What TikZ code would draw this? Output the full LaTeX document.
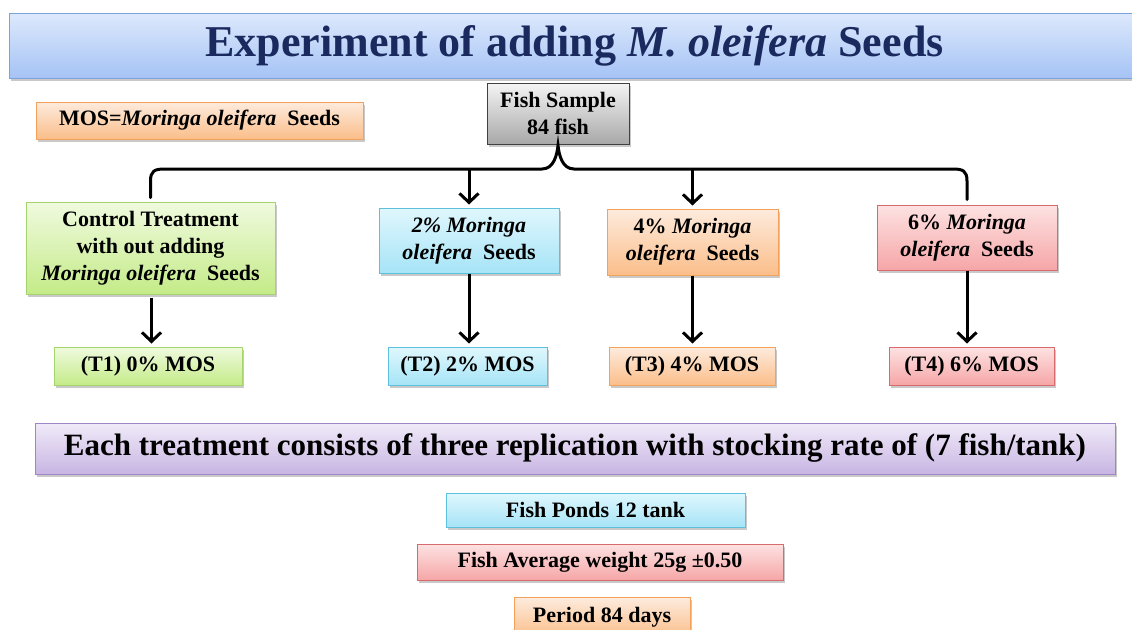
\documentclass[tikz,border=0pt]{standalone}
\usepackage{fontspec}
\setmainfont{Liberation Serif}
\usetikzlibrary{shadows,arrows.meta,calc}
\definecolor{navy}{HTML}{1B2A5E}
\definecolor{ttlT}{HTML}{DDE9FC}\definecolor{ttlB}{HTML}{A5C3F5}\definecolor{ttlD}{HTML}{7DA2DA}
\definecolor{orT}{HTML}{FDEBDD}\definecolor{orB}{HTML}{FBBE8A}\definecolor{orD}{HTML}{F4A15C}
\definecolor{grT}{HTML}{F4F4F4}\definecolor{grB}{HTML}{A8A8A8}\definecolor{grD}{HTML}{404040}
\definecolor{gnT}{HTML}{F0FADF}\definecolor{gnB}{HTML}{C4EB88}\definecolor{gnD}{HTML}{A6D46C}
\definecolor{blT}{HTML}{E0F7FD}\definecolor{blB}{HTML}{A6E4F7}\definecolor{blD}{HTML}{5FC0DD}
\definecolor{pkT}{HTML}{FDE2E2}\definecolor{pkB}{HTML}{F6A6A7}\definecolor{pkD}{HTML}{D66A6D}
\definecolor{puT}{HTML}{F0EAF8}\definecolor{puB}{HTML}{C8B5E3}\definecolor{puD}{HTML}{9C86C6}
\newcommand\MOri{\textit{Moringa oleifera}}
\tikzset{
  box/.style={draw, line width=1pt, rectangle, align=center, inner sep=1pt,
    font=\fontsize{22}{27}\selectfont\bfseries,
    drop shadow={shadow xshift=1.5pt, shadow yshift=-2.5pt, opacity=.3, fill=black!70}},
  orbox/.style={box, draw=orD, top color=orT, bottom color=orB},
  grbox/.style={box, draw=grD, top color=grT, bottom color=grB},
  gnbox/.style={box, draw=gnD, top color=gnT, bottom color=gnB},
  blbox/.style={box, draw=blD, top color=blT, bottom color=blB},
  pkbox/.style={box, draw=pkD, top color=pkT, bottom color=pkB},
  pubox/.style={box, draw=puD, top color=puT, bottom color=puB},
  ttlbox/.style={box, draw=ttlD, top color=ttlT, bottom color=ttlB},
  wh/.style 2 args={minimum width=#1, minimum height=#2},
  conn/.style={line width=3pt, draw=black},
  arr/.style={conn, -{Straight Barb[length=9pt,width=19pt,line width=3pt]}},
}
\begin{document}
\begin{tikzpicture}[x=1pt,y=-1pt]
\useasboundingbox (0,0) rectangle (1132,629);
\node[ttlbox, wh={1131pt}{65pt}, text=navy, font=\fontsize{44}{50}\selectfont\bfseries] (title) at (574.5,45.5) {Experiment of adding \textit{M. oleifera} Seeds};
\node[orbox, wh={327pt}{37pt}] (mos) at (199.5,120.5) {MOS=\MOri\ \ Seeds};
\node[grbox, wh={142pt}{61pt}] (fish) at (558,113.5) {Fish Sample\\84 fish};
\node[gnbox, wh={249pt}{92pt}] (ctrl) at (150.5,248) {Control Treatment\\with out adding\\\MOri\ \ Seeds};
\node[blbox, wh={180pt}{65pt}] (p2) at (469,240.5) {\textit{2\% Moringa}\\\textit{oleifera}\ \ Seeds};
\node[orbox, wh={171pt}{66pt}] (p4) at (692.5,242) {4\% \textit{Moringa}\\\textit{oleifera}\ \ Seeds};
\node[pkbox, wh={180pt}{65pt}] (p6) at (967,237.5) {6\% \textit{Moringa}\\\textit{oleifera}\ \ Seeds};
\node[gnbox, wh={188pt}{38pt}] (t1) at (148,366) {(T1) 0\% MOS};
\node[blbox, wh={159pt}{38pt}] (t2) at (467.5,366) {(T2) 2\% MOS};
\node[orbox, wh={166pt}{38pt}] (t3) at (692,366) {(T3) 4\% MOS};
\node[pkbox, wh={165pt}{38pt}] (t4) at (971.5,366) {(T4) 6\% MOS};
\node[pubox, wh={1080pt}{51pt}, font=\fontsize{31}{36}\selectfont\bfseries] (each) at (575,448.5) {Each treatment consists of three replication with stocking rate of (7 fish/tank)};
\node[blbox, wh={299pt}{34pt}] (ponds) at (595.5,510) {Fish Ponds 12 tank};
\node[pkbox, wh={366pt}{36pt}] (avg) at (600,562) {Fish Average weight 25g ±0.50};
\node[orbox, wh={176pt}{40pt}, anchor=north] (period) at (602,597) {Period 84 days};
% brace
\coordinate (bar) at (0,169);
\draw[conn, line cap=round] ($(ctrl.north)+(0,-4)$) -- ($(ctrl.north |- bar)+(0,12)$)
  .. controls ($(ctrl.north |- bar)+(0,2)$) and ($(ctrl.north |- bar)+(4,0)$) .. ($(ctrl.north |- bar)+(14,0)$)
  -- ($(fish.south |- bar)+(-16,0)$)
  .. controls ($(fish.south |- bar)+(-4,0)$) and ($(fish.south)+(-1,10)$) .. ($(fish.south)+(0,1)$)
  .. controls ($(fish.south)+(1,10)$) and ($(fish.south |- bar)+(4,0)$) .. ($(fish.south |- bar)+(16,0)$)
  -- ($(p6.north |- bar)+(-14,0)$)
  .. controls ($(p6.north |- bar)+(-4,0)$) and ($(p6.north |- bar)+(0,2)$) .. ($(p6.north |- bar)+(0,12)$)
  -- ($(p6.north)+(0,-5)$);
\draw[arr] (p2.north |- bar) -- ($(p2.north)+(0,-3)$);
\draw[arr] (p4.north |- bar) -- ($(p4.north)+(0,-3)$);
\draw[arr] ($(ctrl.south)+(1,3)$) -- ($(t1.north -| ctrl.south)+(1,-3)$);
\draw[arr] (p2.south) -- ($(t2.north -| p2.south)+(0,-3)$);
\draw[arr] (p4.south) -- ($(t3.north -| p4.south)+(0,-3)$);
\draw[arr] (p6.south) -- ($(t4.north -| p6.south)+(0,-3)$);
\end{tikzpicture}
\end{document}
